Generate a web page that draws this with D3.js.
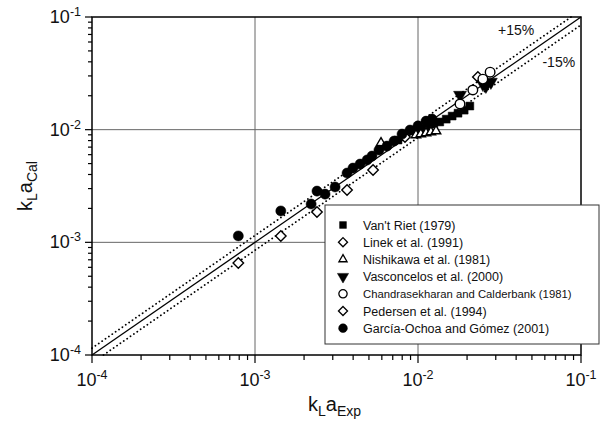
<!DOCTYPE html>
<html>
<head>
<meta charset="utf-8">
<script src="https://cdn.jsdelivr.net/npm/d3@7"></script>
<style>
  body { margin: 0; background: #fff; }
  text { font-family: "Liberation Sans", Arial, sans-serif; fill: #111; }
</style>
</head>
<body>
<div id="plot"></div>
<script>
// data: [kLa exp, kLa cal]
var vantRiet = [[7.54e-3, 8.09e-3], [9.72e-3, 9.72e-3], [1.06e-2, 1.01e-2], [1.15e-2, 1.05e-2],
  [1.25e-2, 1.12e-2], [1.36e-2, 1.17e-2], [1.49e-2, 1.24e-2], [1.62e-2, 1.32e-2],
  [1.76e-2, 1.40e-2], [1.92e-2, 1.49e-2], [2.08e-2, 1.62e-2]];
var linek = [[8.32e-3, 8.60e-3], [2.33e-2, 2.93e-2]];
var nishikawa = [[5.93e-3, 7.61e-3], [9.72e-3, 8.96e-3], [1.04e-2, 9.14e-3], [1.12e-2, 9.33e-3],
  [1.20e-2, 9.52e-3], [1.29e-2, 9.72e-3]];
var vasconcelos = [[1.81e-2, 2.03e-2], [2.50e-2, 2.54e-2], [2.61e-2, 2.44e-2], [2.80e-2, 2.65e-2]];
var chandra = [[1.81e-2, 1.69e-2], [2.17e-2, 2.25e-2], [2.50e-2, 2.81e-2], [2.77e-2, 3.24e-2]];
var pedersen = [[7.9e-4, 6.55e-4], [1.44e-3, 1.14e-3], [2.40e-3, 1.86e-3], [3.67e-3, 2.91e-3],
  [5.30e-3, 4.38e-3]];
var garcia = [[7.9e-4, 1.14e-3], [1.44e-3, 1.90e-3], [2.21e-3, 2.19e-3], [2.40e-3, 2.85e-3],
  [2.69e-3, 2.68e-3], [3.10e-3, 3.10e-3], [3.67e-3, 4.12e-3], [3.99e-3, 4.56e-3],
  [4.41e-3, 4.95e-3], [4.87e-3, 5.38e-3], [5.22e-3, 5.83e-3], [5.76e-3, 6.59e-3],
  [6.45e-3, 7.15e-3], [7.13e-3, 7.92e-3], [7.98e-3, 9.14e-3], [8.93e-3, 9.92e-3],
  [1.0e-2, 1.08e-2], [1.12e-2, 1.19e-2], [1.22e-2, 1.24e-2]];

var seriesNames = ["Van't Riet (1979)", "Linek et al. (1991)", "Nishikawa et al. (1981)",
  "Vasconcelos et al. (2000)", "Chandrasekharan and Calderbank (1981)",
  "Pedersen et al. (1994)", "García-Ochoa and Gómez (2001)"];
var decades = [1e-4, 1e-3, 1e-2, 1e-1];
var exponents = ["-4", "-3", "-2", "-1"];
var band = 0.15;

var series = [
  {data: vantRiet, sym: d3.symbolSquare, size: 62, fill: "#000"},
  {data: linek, sym: d3.symbolDiamond2, size: 70, fill: "#fff"},
  {data: nishikawa, sym: d3.symbolTriangle2, size: 64, fill: "#fff"},
  {data: vasconcelos, sym: d3.symbolTriangle, size: 72, fill: "#000", flip: true},
  {data: chandra, sym: d3.symbolCircle, size: 72, fill: "#fff"},
  {data: pedersen, sym: d3.symbolDiamond2, size: 70, fill: "#fff"},
  {data: garcia, sym: d3.symbolCircle, size: 80, fill: "#000"}
];

const margin = {top: 17, right: 29, bottom: 68, left: 92},
    width = 610 - margin.left - margin.right,
    height = 423 - margin.top - margin.bottom;

var svg = d3.select("div#plot")
  .append("svg")
    .attr("width", 610)
    .attr("height", 423)
  .append("g")
    .attr("transform", "translate(" + margin.left + "," + margin.top + ")");

var x = d3.scaleLog().domain([1e-4, 1e-1]).range([0, width]);
var y = d3.scaleLog().domain([1e-4, 1e-1]).range([height, 0]);

// grid at decades
svg.selectAll(".gx").data(decades.slice(1, 3)).enter().append("line")
  .attr("x1", d => x(d)).attr("x2", d => x(d)).attr("y1", 0).attr("y2", height)
  .attr("stroke", "#666").attr("stroke-width", 1);
svg.selectAll(".gy").data(decades.slice(1, 3)).enter().append("line")
  .attr("y1", d => y(d)).attr("y2", d => y(d)).attr("x1", 0).attr("x2", width)
  .attr("stroke", "#666").attr("stroke-width", 1);

// minor + major ticks
var gx = svg.append("g").attr("transform", "translate(0," + height + ")");
gx.selectAll("line").data(x.ticks()).enter().append("line")
  .attr("x1", d => x(d)).attr("x2", d => x(d)).attr("y1", 0)
  .attr("y2", d => decades.indexOf(d) >= 0 ? 8 : 5)
  .attr("stroke", "#000").attr("stroke-width", 1.2);
var gy = svg.append("g");
gy.selectAll("line").data(y.ticks()).enter().append("line")
  .attr("y1", d => y(d)).attr("y2", d => y(d)).attr("x1", 0)
  .attr("x2", d => decades.indexOf(d) >= 0 ? -7 : -4)
  .attr("stroke", "#000").attr("stroke-width", 1.2);

// tick labels
decades.forEach(function(d, i) {
  var t = svg.append("text").attr("x", x(d)).attr("y", height + 31)
    .attr("text-anchor", "middle").style("font-size", "18px");
  t.append("tspan").text("10");
  t.append("tspan").attr("dy", -7).style("font-size", "12.5px").text(exponents[i]);
  var u = svg.append("text").attr("x", -11).attr("y", y(d) + 6)
    .attr("text-anchor", "end").style("font-size", "18px");
  u.append("tspan").text("10");
  u.append("tspan").attr("dy", -7).style("font-size", "12.5px").text(exponents[i]);
});

// frame
svg.append("rect").attr("width", width).attr("height", height)
  .attr("fill", "none").attr("stroke", "#000").attr("stroke-width", 1.5);

// reference lines
var line = d3.line().x(d => x(d[0])).y(d => y(d[1]));
svg.append("path").datum([[1e-4, 1e-4], [1e-1, 1e-1]]).attr("d", line)
  .attr("stroke", "#000").attr("stroke-width", 1.3).attr("fill", "none");
svg.append("path").datum([[1e-4, 1e-4 * (1 + band)], [1e-1 / (1 + band), 1e-1]]).attr("d", line)
  .attr("stroke", "#000").attr("stroke-width", 1.8).attr("fill", "none")
  .attr("stroke-dasharray", "0.1,4").attr("stroke-linecap", "round");
svg.append("path").datum([[1e-4 / (1 - band), 1e-4], [1e-1, 1e-1 * (1 - band)]]).attr("d", line)
  .attr("stroke", "#000").attr("stroke-width", 1.8).attr("fill", "none")
  .attr("stroke-dasharray", "0.1,4").attr("stroke-linecap", "round");

svg.append("text").attr("x", x(3.1e-2)).attr("y", y(6.9e-2))
  .style("font-size", "14px").text("+15%");
svg.append("text").attr("x", x(5.8e-2)).attr("y", y(3.6e-2))
  .style("font-size", "14px").text("-15%");

// points
series.forEach(function(s) {
  svg.append("g").selectAll("path").data(s.data).enter().append("path")
    .attr("d", d3.symbol().type(s.sym).size(s.size))
    .attr("transform", d => "translate(" + x(d[0]) + "," + y(d[1]) + ")" + (s.flip ? " rotate(180)" : ""))
    .attr("fill", s.fill).attr("stroke", "#000").attr("stroke-width", s.fill == "#fff" ? 1.4 : 0.5);
});

// legend
var lg = svg.append("g").attr("transform", "translate(" + (325 - margin.left) + "," + (205 - margin.top) + ")");
lg.append("rect").attr("width", 274).attr("height", 139)
  .attr("fill", "#fff").attr("stroke", "#333").attr("stroke-width", 1);
series.forEach(function(s, i) {
  var yy = 20 + i * 17.2;
  lg.append("path")
    .attr("d", d3.symbol().type(s.sym).size(s.size * 0.75))
    .attr("transform", "translate(18," + yy + ")" + (s.flip ? " rotate(180)" : ""))
    .attr("fill", s.fill).attr("stroke", "#000").attr("stroke-width", s.fill == "#fff" ? 1.3 : 0.5);
  lg.append("text").attr("x", 38).attr("y", yy + 4.5)
    .style("font-size", i == 4 ? "11.3px" : "12.5px").text(seriesNames[i]);
});

// axis titles
var xt = svg.append("text").attr("x", width / 2 - 2).attr("y", height + 56)
  .attr("text-anchor", "middle").style("font-size", "20px");
xt.append("tspan").text("k");
xt.append("tspan").attr("dy", 5).style("font-size", "14px").text("L");
xt.append("tspan").attr("dy", -5).text("a");
xt.append("tspan").attr("dy", 5).style("font-size", "14px").text("Exp");

var yt = svg.append("text").attr("transform", "translate(" + (-60) + "," + (height / 2) + ") rotate(-90)")
  .attr("text-anchor", "middle").style("font-size", "20px");
yt.append("tspan").text("k");
yt.append("tspan").attr("dy", 5).style("font-size", "14px").text("L");
yt.append("tspan").attr("dy", -5).text("a");
yt.append("tspan").attr("dy", 5).style("font-size", "14px").text("Cal");
</script>
</body>
</html>
